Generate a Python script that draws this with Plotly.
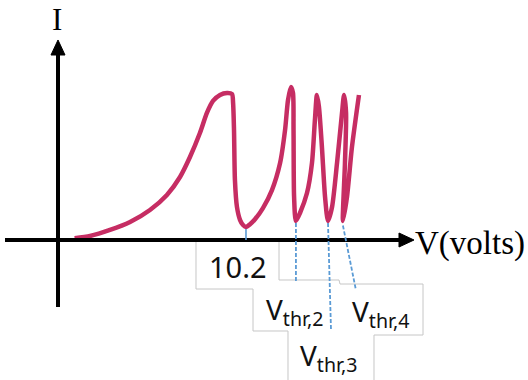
import plotly.graph_objects as go

# ---------------- data (volts / current units) ----------------
V_curve = [0.90, 1.74, 2.82, 3.91, 4.99, 5.91, 6.62, 7.16, 7.70,
           8.08, 8.41, 8.79, 9.17, 9.44, 9.50, 9.55, 9.60, 9.71, 9.88,
           10.04, 10.20, 10.42, 10.70, 11.12, 11.61, 12.05, 12.32, 12.48, 12.64, 12.75, 12.78,
           12.81, 12.91, 13.13, 13.51, 13.78, 13.94, 14.05, 14.16, 14.32, 14.49,
           14.65, 14.87, 15.14, 15.41, 15.52, 15.63, 15.57, 15.46, 15.68, 15.95,
           16.33]
I_curve = [0.12, 0.27, 0.67, 1.20, 2.00, 3.00, 4.20, 5.53, 7.13,
           8.47, 9.27, 9.67, 9.80, 9.73, 9.13, 7.33, 4.00, 2.20, 1.33,
           1.00, 0.87, 1.05, 1.40, 2.13, 3.33, 5.13, 7.33, 9.33, 10.20, 9.80, 7.33,
           2.87, 1.27, 1.80, 3.13, 5.13, 8.00, 9.67, 8.87, 6.20, 2.87,
           1.27, 2.20, 5.13, 8.47, 9.67, 8.47, 5.13, 1.27, 2.87, 6.20,
           9.67]
V_thr = [10.2, 12.91, 14.65, 15.46]
I_min = [0.87, 1.27, 1.27, 1.10]
thr_labels = ["10.2", "V<sub>thr,2</sub>", "V<sub>thr,3</sub>", "V<sub>thr,4</sub>"]
x_label = "V(volts)"
y_label = "I"

# ---------------- frame geometry ----------------
W, H = 528, 380
OX, OY = 58, 240          # pixel position of origin
SX, SY = 18.43, 15.0      # px per volt, px per current unit

def px(x):
    return x / W

def py(y):
    return 1 - y / H

def path(points, close=False):
    s = "M " + " L ".join(f"{px(x):.5f},{py(y):.5f}" for x, y in points)
    return s + (" Z" if close else "")

fig = go.Figure()
fig.add_trace(go.Scatter(
    x=V_curve, y=I_curve, mode="lines",
    line=dict(color="#C62D63", width=4.5, shape="spline", smoothing=0.7),
    hoverinfo="skip", showlegend=False))

shapes = []
GRAY = "#C6C6C6"
# label boxes (visible border segments)
box_segments = [
    [(196, 242), (196, 289), (253, 289), (253, 331), (288, 331), (288, 380)],
    [(279, 242), (279, 280), (339, 280), (340, 284), (423, 284), (423, 335), (374, 335), (374, 380)],
]
for seg in box_segments:
    shapes.append(dict(type="path", xref="paper", yref="paper", path=path(seg),
                       line=dict(color=GRAY, width=1)))

# axes
shapes.append(dict(type="line", xref="paper", yref="paper",
                   x0=px(5), y0=py(OY), x1=px(402), y1=py(OY),
                   line=dict(color="black", width=4)))
shapes.append(dict(type="line", xref="paper", yref="paper",
                   x0=px(OX), y0=py(307), x1=px(OX), y1=py(52),
                   line=dict(color="black", width=4)))
shapes.append(dict(type="path", xref="paper", yref="paper",
                   path=path([(399, OY - 7), (414, OY), (399, OY + 7)], close=True),
                   fillcolor="black", line=dict(color="black", width=1)))
shapes.append(dict(type="path", xref="paper", yref="paper",
                   path=path([(OX - 7, 55), (OX, 40), (OX + 7, 55)], close=True),
                   fillcolor="black", line=dict(color="black", width=1)))

# leader lines from the minima to the labels
BLUE = "#5B9BD5"
leader_end = [(0, 240), (0, 281), (3, 330), (13, 290)]   # (dx px, y px) of lower end
for i, (v, imin) in enumerate(zip(V_thr, I_min)):
    x_top = OX + v * SX
    y_top = OY - imin * SY
    dx, yb = leader_end[i]
    shapes.append(dict(type="line", xref="paper", yref="paper",
                       x0=px(x_top), y0=py(y_top + 2), x1=px(x_top + dx), y1=py(yb),
                       line=dict(color=BLUE, width=1.6 if i == 0 else 1.8,
                                 dash="solid" if i == 0 else "4px,2px")))

annotations = []
sans = dict(family="Noto Sans, Open Sans, sans-serif", size=28, color="#111111")
label_pos = [(238, 266, "center"), (264, 311, "left"), (298, 357, "left"), (350, 313, "left")]
for i, ((x, y, anc), t) in enumerate(zip(label_pos, thr_labels)):
    f = dict(sans, size=29) if i == 0 else sans
    annotations.append(dict(text=t, xref="paper", yref="paper", x=px(x), y=py(y),
                            xanchor=anc, yanchor="middle", showarrow=False, font=f))
serif = dict(family="Liberation Serif, Times New Roman, serif", size=33, color="black")
annotations.append(dict(text=y_label, xref="paper", yref="paper", x=px(57), y=py(19),
                        xanchor="center", yanchor="middle", showarrow=False,
                        font=dict(serif, size=31)))
annotations.append(dict(text=x_label, xref="paper", yref="paper", x=px(413), y=py(243),
                        xanchor="left", yanchor="middle", showarrow=False, font=serif))

fig.update_layout(
    width=W, height=H, margin=dict(l=0, r=0, t=0, b=0),
    paper_bgcolor="white", plot_bgcolor="white",
    xaxis=dict(visible=False, range=[-OX / SX, (W - OX) / SX], fixedrange=True),
    yaxis=dict(visible=False, range=[-(H - OY) / SY, OY / SY], fixedrange=True),
    shapes=shapes, annotations=annotations, showlegend=False)

fig.write_html("out.html", config={"displayModeBar": False},
               post_script="document.body.style.margin='0';document.body.style.overflow='hidden';")
